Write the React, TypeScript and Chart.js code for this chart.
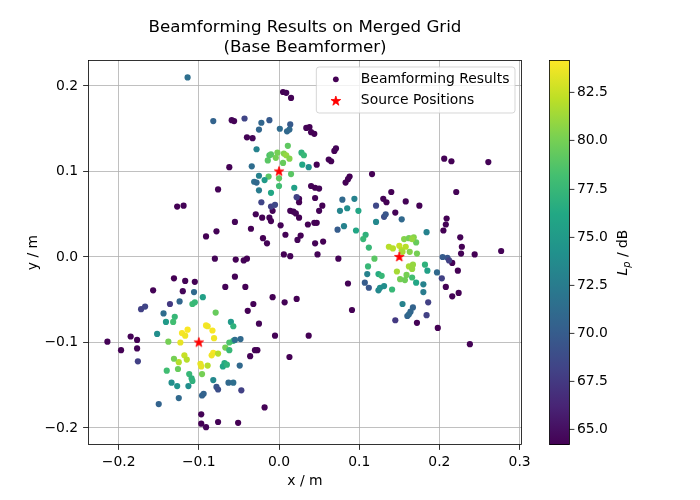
import React, { useEffect, useRef } from 'react';
import { Chart, registerables } from 'chart.js';

Chart.register(...registerables);

// Level range of the colour bar (dB)
const levelMin = 64.2;
const levelMax = 84.2;

const xTicks = [-0.2, -0.1, 0, 0.1, 0.2, 0.3];
const yTicks = [-0.2, -0.1, 0, 0.1, 0.2];
const levelTicks = [65, 67.5, 70, 72.5, 75, 77.5, 80, 82.5];

// Known source positions (m)
const sourceX = [0, 0.15, -0.1];
const sourceY = [0.1, 0, -0.1];

// Beamforming results: [x (m), y (m), Lp (dB)]
type Hit = [number, number, number];

const sidelobeHits: Hit[] = [
  [-0.059, 0.160, 64.5], [-0.056, 0.159, 64.3], [-0.062, 0.105, 64.2], [-0.076, 0.079, 64.3],
  [0.005, 0.193, 64.2], [0.009, 0.192, 64.4], [0.015, 0.186, 64.3],
  [0.034, 0.151, 64.3], [0.038, 0.152, 64.2], [0.040, 0.146, 64.3], [0.044, 0.144, 64.2],
  [-0.040, 0.140, 64.3], [-0.033, 0.139, 64.4],
  [0.047, 0.108, 64.2], [0.062, 0.114, 64.3], [0.065, 0.112, 64.2], [0.069, 0.124, 64.2], [0.071, 0.127, 64.4],
  [0.088, 0.094, 64.2], [0.086, 0.091, 64.3], [0.116, 0.097, 64.2],
  [0.040, 0.083, 64.3], [0.045, 0.081, 64.2], [0.050, 0.080, 64.4], [0.083, 0.087, 64.2],
  [0.206, 0.115, 64.3], [0.215, 0.112, 64.2], [0.261, 0.111, 64.3],
  [-0.127, 0.059, 64.2], [-0.119, 0.060, 64.3], [-0.091, 0.024, 64.2], [-0.078, 0.030, 64.3], [-0.080, -0.002, 64.4],
  [-0.131, -0.025, 64.2], [-0.117, -0.028, 64.3], [-0.105, -0.029, 64.2], [-0.157, -0.039, 64.3], [-0.120, -0.040, 64.5], [-0.067, -0.035, 64.3],
  [-0.008, 0.054, 64.3], [0.025, 0.068, 64.3], [0.025, 0.064, 64.2], [0.045, 0.069, 64.3], [0.054, 0.060, 64.2], [0.050, 0.054, 64.3],
  [0.014, 0.054, 64.3], [0.018, 0.053, 64.2], [0.021, 0.051, 64.4], [0.025, 0.046, 64.2],
  [-0.029, 0.050, 64.3], [-0.021, 0.046, 64.2], [-0.012, 0.046, 64.3], [-0.010, 0.042, 64.2],
  [-0.055, 0.041, 64.4], [-0.035, 0.033, 64.2], [0.002, 0.037, 64.3], [0.036, 0.038, 64.2], [0.044, 0.040, 64.3], [0.047, 0.040, 64.2],
  [0.008, 0.026, 64.3], [0.027, 0.025, 64.2], [0.023, 0.020, 64.4], [-0.020, 0.022, 64.2], [-0.015, 0.016, 64.3], [0.045, 0.016, 64.3], [0.055, 0.018, 64.2],
  [0.006, 0.003, 64.2], [0.014, 0.001, 64.3], [0.048, 0.003, 64.4], [-0.054, -0.003, 64.2], [-0.044, -0.004, 64.3], [-0.040, -0.002, 64.2], [0.074, -0.002, 64.3],
  [-0.055, -0.023, 64.3], [-0.042, -0.035, 64.2], [0.086, -0.031, 64.3], [-0.008, -0.047, 64.2], [0.007, -0.053, 64.3], [0.022, -0.049, 64.2],
  [-0.032, -0.055, 64.3], [-0.039, -0.063, 64.2], [-0.025, -0.078, 64.4], [0.091, -0.062, 64.2],
  [0.140, 0.076, 64.2], [0.130, 0.068, 64.3], [0.134, 0.064, 64.2], [0.158, 0.065, 64.3], [0.175, 0.060, 64.2], [0.221, 0.076, 64.3], [0.145, 0.052, 64.3],
  [0.209, 0.045, 64.2], [0.208, 0.038, 64.3], [0.205, 0.031, 64.2], [0.226, 0.023, 64.3], [0.228, 0.012, 64.2], [0.227, 0.004, 64.3], [0.244, 0.003, 64.2], [0.277, 0.007, 64.3],
  [0.216, -0.007, 64.3], [0.223, -0.016, 64.2], [0.208, -0.035, 64.3], [0.224, -0.042, 64.2], [0.216, -0.046, 64.3], [0.172, -0.077, 64.3], [0.198, -0.083, 64.2], [0.238, -0.102, 64.3],
  [-0.214, -0.099, 64.3], [-0.197, -0.109, 64.2], [-0.185, -0.093, 64.3], [-0.177, -0.097, 64.2], [-0.177, -0.107, 64.4],
  [-0.097, -0.184, 64.3], [-0.097, -0.195, 64.2], [-0.091, -0.199, 64.4], [-0.076, -0.193, 64.3],
  [-0.005, -0.092, 64.3], [0.037, -0.092, 64.2], [-0.030, -0.109, 64.3], [-0.027, -0.109, 64.2], [-0.036, -0.116, 64.3], [0.013, -0.117, 64.2],
  [-0.018, -0.176, 64.3], [-0.051, -0.194, 64.2],
];

const upperSourceHits: Hit[] = [
  [-0.114, 0.210, 71.5], [-0.082, 0.159, 70.5], [-0.043, 0.162, 68.3], [-0.022, 0.157, 70.8], [-0.012, 0.160, 69.8],
  [-0.025, 0.149, 70.8], [0.014, 0.155, 69.8], [0.001, 0.150, 71.2], [0.010, 0.147, 71.0], [0.013, 0.149, 71.0],
  [-0.028, 0.126, 73.0], [0.011, 0.130, 79.2], [-0.012, 0.119, 78.5], [-0.010, 0.120, 79.0], [-0.002, 0.122, 80.0],
  [0.006, 0.121, 80.5], [0.009, 0.119, 81.0], [0.013, 0.115, 80.5], [-0.004, 0.116, 80.0], [-0.014, 0.113, 79.0],
  [0.005, 0.110, 79.5], [0.028, 0.122, 77.0], [0.031, 0.119, 77.5], [0.029, 0.108, 76.0], [0.037, 0.105, 74.0],
  [-0.034, 0.106, 71.3], [-0.025, 0.095, 73.0], [-0.013, 0.094, 79.0], [0.000, 0.092, 79.3], [0.015, 0.097, 79.0],
  [-0.031, 0.088, 71.5], [-0.028, 0.087, 71.0], [-0.018, 0.090, 75.0], [0.000, 0.083, 78.0], [0.019, 0.081, 75.5],
  [-0.025, 0.078, 72.5], [-0.010, 0.075, 76.0], [-0.022, 0.064, 68.3], [-0.010, 0.059, 68.0], [-0.005, 0.061, 68.5],
  [0.022, 0.070, 68.0],
];

const rightSourceHits: Hit[] = [
  [0.079, 0.067, 71.0], [0.094, 0.068, 73.0], [0.076, 0.054, 73.2], [0.085, 0.057, 74.0], [0.099, 0.054, 76.0],
  [0.121, 0.060, 68.5], [0.121, 0.041, 73.5], [0.073, 0.032, 70.0], [0.081, 0.036, 73.0], [0.096, 0.031, 76.0],
  [0.108, 0.026, 77.0], [0.105, 0.021, 77.5], [0.112, 0.011, 77.5], [0.119, -0.002, 79.0], [0.111, -0.011, 77.5],
  [0.124, -0.020, 76.5], [0.128, -0.022, 77.5], [0.110, -0.020, 73.0], [0.107, -0.030, 70.0], [0.112, -0.036, 69.5],
  [0.124, -0.039, 73.5], [0.126, -0.036, 74.0], [0.131, -0.034, 74.0], [0.141, -0.038, 77.5],
  [0.131, 0.047, 69.0], [0.133, 0.050, 69.5], [0.153, 0.044, 71.0], [0.184, 0.029, 73.0],
  [0.156, 0.021, 80.5], [0.162, 0.022, 80.0], [0.168, 0.023, 80.5], [0.171, 0.017, 79.5], [0.166, 0.021, 81.0],
  [0.137, 0.012, 82.0], [0.142, 0.010, 82.0], [0.150, 0.013, 82.5], [0.158, 0.012, 82.0], [0.153, 0.008, 82.0],
  [0.154, 0.006, 81.5], [0.163, 0.006, 80.5], [0.172, 0.004, 80.0], [0.162, -0.011, 81.5], [0.167, -0.009, 81.0],
  [0.166, -0.014, 81.0], [0.182, -0.009, 77.0], [0.185, -0.016, 75.5], [0.147, -0.017, 81.5], [0.159, -0.021, 80.0],
  [0.151, -0.026, 80.0], [0.157, -0.027, 79.8], [0.166, -0.024, 78.0], [0.171, -0.030, 76.0], [0.180, -0.032, 73.0],
  [0.197, -0.018, 71.0], [0.204, 0.000, 70.0], [0.210, -0.001, 69.5], [0.212, -0.004, 68.0], [0.203, -0.025, 68.0],
  [0.180, -0.041, 72.5], [0.154, -0.055, 73.0], [0.186, -0.053, 68.0], [0.167, -0.059, 70.5], [0.164, -0.064, 70.8],
  [0.160, -0.069, 70.5], [0.162, -0.067, 71.0], [0.184, -0.068, 68.0], [0.145, -0.074, 67.5],
];

const lowerSourceHits: Hit[] = [
  [-0.106, -0.041, 71.0], [-0.136, -0.055, 67.5], [-0.124, -0.052, 70.8], [-0.108, -0.055, 77.8], [-0.105, -0.053, 77.5],
  [-0.095, -0.047, 75.5], [-0.172, -0.061, 68.0], [-0.167, -0.058, 68.3], [-0.144, -0.066, 71.3], [-0.130, -0.070, 77.5],
  [-0.141, -0.076, 75.0], [-0.132, -0.076, 78.0], [-0.079, -0.065, 79.5], [-0.091, -0.080, 84.0], [-0.089, -0.081, 83.8],
  [-0.060, -0.076, 75.0], [-0.057, -0.081, 77.0], [-0.152, -0.090, 74.0], [-0.176, -0.122, 68.0], [-0.138, -0.099, 80.0],
  [-0.123, -0.100, 83.5], [-0.121, -0.089, 84.0], [-0.117, -0.092, 83.8], [-0.114, -0.085, 84.1], [-0.083, -0.086, 84.0],
  [-0.081, -0.095, 83.8], [-0.118, -0.115, 82.5], [-0.115, -0.120, 82.0], [-0.125, -0.123, 82.0], [-0.131, -0.119, 80.0],
  [-0.140, -0.133, 78.0], [-0.126, -0.131, 79.5], [-0.098, -0.125, 83.5], [-0.097, -0.128, 83.5], [-0.089, -0.127, 82.0],
  [-0.096, -0.137, 80.0], [-0.082, -0.112, 84.0], [-0.084, -0.115, 83.8], [-0.076, -0.113, 82.0], [-0.067, -0.106, 80.0],
  [-0.062, -0.109, 77.5], [-0.062, -0.100, 78.5], [-0.057, -0.098, 77.5], [-0.068, -0.124, 76.5], [-0.070, -0.128, 76.0],
  [-0.065, -0.126, 77.0], [-0.112, -0.137, 77.5], [-0.109, -0.142, 77.0], [-0.108, -0.145, 77.0], [-0.134, -0.147, 74.0],
  [-0.127, -0.151, 74.5], [-0.113, -0.151, 74.0], [-0.082, -0.144, 73.5], [-0.063, -0.147, 71.0], [-0.057, -0.147, 71.5],
  [-0.078, -0.152, 69.5], [-0.076, -0.155, 69.0], [-0.096, -0.162, 70.5], [-0.094, -0.160, 70.5], [-0.125, -0.165, 71.0],
  [-0.150, -0.172, 70.5], [-0.055, -0.097, 71.5], [-0.048, -0.096, 71.0], [-0.049, -0.127, 71.0], [-0.047, -0.156, 68.0],
];

const VIRIDIS = [
  '#440154', '#482475', '#414487', '#355f8d', '#2a788e', '#21918c',
  '#22a884', '#44bf70', '#7ad151', '#bddf26', '#fde725',
];

function hexToRgb(h: string) {
  return [parseInt(h.slice(1, 3), 16), parseInt(h.slice(3, 5), 16), parseInt(h.slice(5, 7), 16)];
}

function viridis(level: number) {
  const t = Math.min(1, Math.max(0, (level - levelMin) / (levelMax - levelMin)));
  const s = t * (VIRIDIS.length - 1);
  const i = Math.min(Math.floor(s), VIRIDIS.length - 2);
  const f = s - i;
  const a = hexToRgb(VIRIDIS[i]);
  const b = hexToRgb(VIRIDIS[i + 1]);
  const c = a.map((v, k) => Math.round(v + (b[k] - v) * f));
  return `rgb(${c[0]},${c[1]},${c[2]})`;
}

const FONT = '"DejaVu Sans", sans-serif';
const FS = 13.9;

function fmtTick(v: number) {
  const s = Math.abs(v).toFixed(1);
  return v < -1e-9 ? '\u2212' + s : s;
}

function starPath(ctx: CanvasRenderingContext2D, cx: number, cy: number, r: number) {
  const inner = r * 0.381966;
  ctx.beginPath();
  for (let k = 0; k < 10; k++) {
    const ang = -Math.PI / 2 + (k * Math.PI) / 5;
    const rad = k % 2 === 0 ? r : inner;
    const px = cx + rad * Math.cos(ang);
    const py = cy + rad * Math.sin(ang);
    if (k === 0) ctx.moveTo(px, py);
    else ctx.lineTo(px, py);
  }
  ctx.closePath();
}

function makeStarImage(r: number) {
  const size = 16;
  const c = document.createElement('canvas');
  c.width = size;
  c.height = size;
  const g = c.getContext('2d')!;
  starPath(g, size / 2, size / 2, r);
  g.fillStyle = '#ff0000';
  g.fill();
  g.strokeStyle = '#ff0000';
  g.lineWidth = 0.8;
  g.stroke();
  return c;
}

const framePlugin = {
  id: 'axesFrame',
  afterDatasetsDraw(chart: any) {
    const { ctx, chartArea: a } = chart;
    ctx.save();
    ctx.strokeStyle = '#000';
    ctx.lineWidth = 0.8;
    ctx.strokeRect(a.left + 0.5, a.top + 0.5, a.right - a.left - 1, a.bottom - a.top - 1);
    ctx.restore();
  },
};

const titlePlugin = {
  id: 'twoLineTitle',
  afterDraw(chart: any) {
    const { ctx, chartArea: a } = chart;
    const cx = (a.left + a.right) / 2;
    ctx.save();
    ctx.fillStyle = '#000';
    ctx.font = `16.7px ${FONT}`;
    ctx.textAlign = 'center';
    ctx.textBaseline = 'alphabetic';
    ctx.fillText('Beamforming Results on Merged Grid', cx, 31.5);
    ctx.fillText('(Base Beamformer)', cx, 51.7);
    ctx.restore();
  },
};

const legendPlugin = {
  id: 'innerLegend',
  afterDraw(chart: any) {
    const { ctx, chartArea: a } = chart;
    const labels: string[] = chart.data.datasets.map((d: any) => d.label);
    ctx.save();
    ctx.font = `${FS}px ${FONT}`;
    const tw = Math.max(...labels.map((l) => ctx.measureText(l).width));
    const w = 5.6 + 27.8 + 11.1 + tw + 5.6;
    const h = 46;
    const right = a.right - 7;
    const top = a.top + 7;
    const left = right - w;
    const r = 2.8;
    ctx.beginPath();
    ctx.moveTo(left + r, top);
    ctx.lineTo(right - r, top);
    ctx.arcTo(right, top, right, top + r, r);
    ctx.lineTo(right, top + h - r);
    ctx.arcTo(right, top + h, right - r, top + h, r);
    ctx.lineTo(left + r, top + h);
    ctx.arcTo(left, top + h, left, top + h - r, r);
    ctx.lineTo(left, top + r);
    ctx.arcTo(left, top, left + r, top, r);
    ctx.closePath();
    ctx.fillStyle = 'rgba(255,255,255,0.8)';
    ctx.fill();
    ctx.strokeStyle = 'rgba(204,204,204,0.8)';
    ctx.lineWidth = 1;
    ctx.stroke();

    const mx = left + 5.6 + 13.9;
    const tx = left + 5.6 + 27.8 + 11.1;
    const rows = [top + 12.3, top + 33.7];
    // scatter handle
    ctx.fillStyle = viridis(levelMin);
    ctx.beginPath();
    ctx.arc(mx, rows[0], 2.9, 0, Math.PI * 2);
    ctx.fill();
    // source handle
    starPath(ctx, mx, rows[1] + 0.4, 5.1);
    ctx.fillStyle = '#ff0000';
    ctx.fill();
    ctx.strokeStyle = '#ff0000';
    ctx.lineWidth = 0.8;
    ctx.stroke();

    ctx.fillStyle = '#000';
    ctx.textAlign = 'left';
    ctx.textBaseline = 'middle';
    labels.forEach((l, i) => ctx.fillText(l, tx, rows[i]));
    ctx.restore();
  },
};

const colorbarPlugin = {
  id: 'levelColorbar',
  afterDraw(chart: any) {
    const { ctx, chartArea: a } = chart;
    const cb = chart.scales.cb;
    const x0 = a.right + 27.5;
    const bw = 20;
    const yTop = cb.getPixelForValue(levelMax);
    const yBot = cb.getPixelForValue(levelMin);
    ctx.save();
    const grad = ctx.createLinearGradient(0, yBot, 0, yTop);
    VIRIDIS.forEach((c, i) => grad.addColorStop(i / (VIRIDIS.length - 1), c));
    ctx.fillStyle = grad;
    ctx.fillRect(x0, yTop, bw, yBot - yTop);
    ctx.strokeStyle = '#000';
    ctx.lineWidth = 0.8;
    ctx.strokeRect(x0, yTop + 0.5, bw, yBot - yTop - 1);
    // tick marks
    cb.ticks.forEach((t: any) => {
      const y = Math.round(cb.getPixelForValue(t.value) - 0.4) + 0.4;
      ctx.beginPath();
      ctx.moveTo(x0 + bw, y);
      ctx.lineTo(x0 + bw + 4.9, y);
      ctx.stroke();
    });
    // axis label: L_p / dB, reading bottom to top
    ctx.translate(a.right + 100, (yTop + yBot) / 2);
    ctx.rotate(-Math.PI / 2);
    ctx.fillStyle = '#000';
    ctx.textBaseline = 'alphabetic';
    ctx.textAlign = 'left';
    const fIt = `italic ${FS}px ${FONT}`;
    const fSub = `italic ${FS * 0.7}px ${FONT}`;
    const fNorm = `${FS}px ${FONT}`;
    ctx.font = fIt;
    const wL = ctx.measureText('L').width;
    ctx.font = fSub;
    const wp = ctx.measureText('p').width;
    ctx.font = fNorm;
    const rest = ' / dB';
    const wr = ctx.measureText(rest).width;
    let x = -(wL + wp + wr) / 2;
    const base = FS * 0.36;
    ctx.font = fIt;
    ctx.fillText('L', x, base);
    x += wL;
    ctx.font = fSub;
    ctx.fillText('p', x, base + FS * 0.22);
    x += wp;
    ctx.font = fNorm;
    ctx.fillText(rest, x, base);
    ctx.restore();
  },
};

export default function App() {
  const canvasRef = useRef<HTMLCanvasElement>(null);

  useEffect(() => {
    const canvas = canvasRef.current;
    if (!canvas) return;
    Chart.defaults.font.family = FONT;
    Chart.defaults.font.size = FS;
    Chart.defaults.color = '#000';

    const hits = [...sidelobeHits, ...upperSourceHits, ...rightSourceHits, ...lowerSourceHits];
    const starImg = makeStarImage(5.1);

    const gridStyle = {
      color: '#b0b0b0',
      lineWidth: 0.8,
      tickColor: '#000',
      tickWidth: 0.8,
      tickLength: 4.9,
    };

    // Fixed axis boxes keep the plot area at 88..522 x 60..445
    const fixBox = (w: number | null, h: number | null) => (s: any) => {
      if (w !== null) s.width = w;
      if (h !== null) s.height = h;
      s.paddingTop = 0;
      s.paddingBottom = 0;
      s.paddingLeft = 0;
      s.paddingRight = 0;
    };

    const chart = new Chart(canvas, {
      type: 'scatter',
      data: {
        datasets: [
          {
            label: 'Beamforming Results',
            data: hits.map(([x, y]) => ({ x, y })),
            backgroundColor: hits.map(([, , v]) => viridis(v)),
            pointRadius: 3.1,
            pointBorderWidth: 0,
            pointHoverRadius: 3.1,
            xAxisID: 'x',
            yAxisID: 'y',
            order: 2,
          },
          {
            label: 'Source Positions',
            data: sourceX.map((x, i) => ({ x, y: sourceY[i] })),
            pointStyle: starImg as any,
            pointRadius: 6,
            backgroundColor: '#ff0000',
            xAxisID: 'x',
            yAxisID: 'y',
            order: 1,
          },
        ],
      },
      options: {
        animation: false,
        responsive: false,
        events: [],
        layout: { padding: { top: 60, left: 0, right: 0, bottom: 0 } },
        plugins: {
          legend: { display: false },
          tooltip: { enabled: false },
          title: { display: false },
        },
        scales: {
          x: {
            type: 'linear',
            position: 'bottom',
            min: -0.2382,
            max: 0.303,
            afterBuildTicks: (s: any) => {
              s.ticks = xTicks.map((value) => ({ value }));
            },
            afterFit: fixBox(null, 55),
            ticks: { callback: (v: any) => fmtTick(Number(v)), padding: 4, maxRotation: 0, autoSkip: false },
            grid: gridStyle,
            border: { display: false },
            title: { display: true, text: 'x / m', padding: { top: 0, bottom: 10.7 } },
          },
          y: {
            type: 'linear',
            position: 'left',
            min: -0.2199,
            max: 0.2304,
            afterBuildTicks: (s: any) => {
              s.ticks = yTicks.map((value) => ({ value }));
            },
            afterFit: fixBox(88, null),
            ticks: { callback: (v: any) => fmtTick(Number(v)), padding: 4.9, autoSkip: false },
            grid: gridStyle,
            border: { display: false },
            title: { display: true, text: 'y / m', padding: { top: 24.7, bottom: 0 } },
          },
          cb: {
            type: 'linear',
            position: 'right',
            min: levelMin,
            max: levelMax,
            afterBuildTicks: (s: any) => {
              s.ticks = levelTicks.map((value) => ({ value }));
            },
            afterFit: fixBox(178, null),
            ticks: { callback: (v: any) => Number(v).toFixed(1), padding: 55, autoSkip: false },
            grid: { display: false, drawTicks: false },
            border: { display: false },
          },
        },
      } as any,
      plugins: [framePlugin, titlePlugin, legendPlugin, colorbarPlugin],
    });

    return () => chart.destroy();
  }, []);

  return (
    <div style={{ position: 'fixed', left: 0, top: 0, width: 700, height: 500, background: '#fff' }}>
      <canvas ref={canvasRef} width={700} height={500} style={{ display: 'block', width: 700, height: 500 }} />
    </div>
  );
}
